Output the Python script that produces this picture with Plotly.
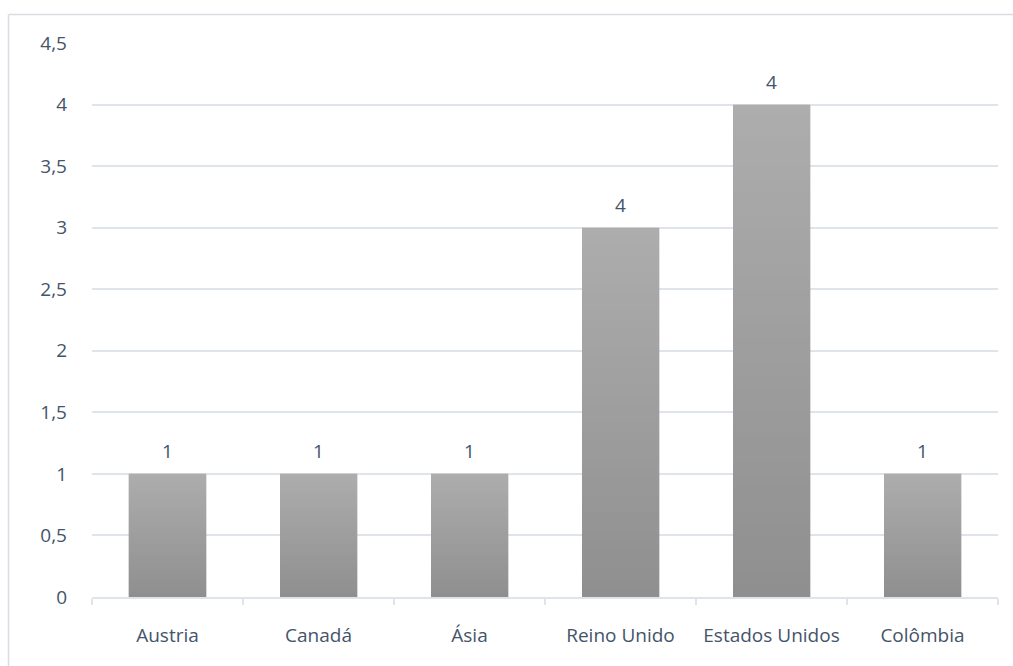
import plotly.graph_objects as go
import numpy as np

categories = ["Austria", "Canadá", "Ásia", "Reino Unido", "Estados Unidos", "Colômbia"]
values = [1, 1, 1, 3, 4, 1]
labels = ["1", "1", "1", "4", "4", "1"]

W, H = 1013, 666
ML, MR, MT, MB = 92, 15, 43, 69
TXT = "#44546A"
GRID = "#DFE3EA"
FONT = "'Open Sans', Lato, sans-serif"
FS = 19

# gradient: darker at bottom, lighter at top, per bar
N = 40
bottom_rgb = np.array([0x8F, 0x8F, 0x8F])
top_rgb = np.array([0xAD, 0xAD, 0xAD])

fig = go.Figure()
vals = np.array(values, dtype=float)
for i in range(N):
    t = (i + 0.5) / N
    c = (bottom_rgb + (top_rgb - bottom_rgb) * t).round().astype(int)
    col = f"rgb({c[0]},{c[1]},{c[2]})"
    fig.add_trace(go.Bar(
        x=categories, y=vals / N,
        marker=dict(color=col, line=dict(width=0.35, color=col)),
        hoverinfo="skip", showlegend=False,
    ))

for cat, v, lab in zip(categories, values, labels):
    fig.add_annotation(x=cat, y=v, text=lab, showarrow=False, yshift=23,
                       font=dict(family=FONT, size=FS, color=TXT))

pw = W - ML - MR
ph = H - MT - MB
def px_x(p): return (p - ML) / pw
def px_y(p): return (H - MB - p) / ph

fig.add_shape(type="line", xref="paper", yref="paper",
              x0=px_x(8.5), x1=px_x(1020), y0=px_y(14.5), y1=px_y(14.5),
              line=dict(color="#D9DCE1", width=1.5))
fig.add_shape(type="line", xref="paper", yref="paper",
              x0=px_x(8.5), x1=px_x(8.5), y0=px_y(14.5), y1=px_y(680),
              line=dict(color="#D9DCE1", width=1.5))

fig.update_layout(
    width=W, height=H, barmode="stack", bargap=0.49,
    margin=dict(l=ML, r=MR, t=MT, b=MB, autoexpand=False),
    paper_bgcolor="white", plot_bgcolor="white",
    separators=",.",
    font=dict(family=FONT, size=FS, color=TXT),
)
fig.update_xaxes(showline=True, linecolor=GRID, linewidth=1.5, ticks="outside",
                 tickson="boundaries", ticklen=6, tickcolor=GRID, tickwidth=1.5,
                 tickangle=0, automargin=False,
                 showgrid=False, tickfont=dict(family=FONT, size=FS, color=TXT), ticklabelstandoff=20)
fig.update_yaxes(range=[0, 4.5], dtick=0.5, showgrid=True, gridcolor=GRID, gridwidth=1.5,
                 automargin=False,
                 zeroline=False, showline=False, ticks="", tickfont=dict(family=FONT, size=FS, color=TXT),
                 ticklabelstandoff=24)

fig.write_html("out.html")
